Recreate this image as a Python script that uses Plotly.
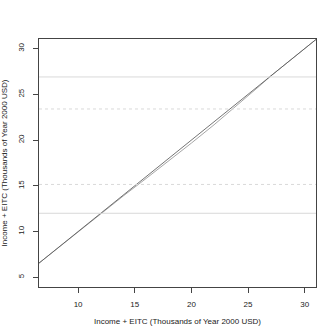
import plotly.graph_objects as go

# income before EITC (thousands of year 2000 USD)
income = [6.5, 12, 14, 16, 18, 20, 22, 24, 26, 27, 31]
# income + EITC, reference line (no change)
total_ref = [6.5, 12, 14, 16, 18, 20, 22, 24, 26, 27, 31]
# income + EITC, alternative schedule
total_alt = [6.5, 12, 13.9, 15.8, 17.72, 19.67, 21.67, 23.75, 25.9, 27, 31]

solid_levels = [12.0, 26.9]
dashed_levels = [15.15, 23.4]

y_range = [3.94, 31.05]
y_ticks = [5, 10, 15, 20, 25, 30]

fig = go.Figure()

for lvl in solid_levels:
    fig.add_hline(y=lvl, line=dict(color='#d9d9d9', width=1))
for lvl in dashed_levels:
    fig.add_hline(y=lvl, line=dict(color='#d9d9d9', width=1, dash='dot'))

fig.add_trace(go.Scatter(
    x=income, y=total_alt, mode='lines', yaxis='y2',
    line=dict(color='#a6a6a6', width=1), showlegend=False
))
fig.add_trace(go.Scatter(
    x=income, y=total_ref, mode='lines', yaxis='y2',
    line=dict(color='#505050', width=0.8), showlegend=False
))

axis_font = dict(family='Liberation Sans, Arial', size=8, color='#222')

fig.update_layout(
    width=336, height=336,
    plot_bgcolor='white', paper_bgcolor='white',
    margin=dict(l=39, r=20, t=39, b=49),
    font=axis_font,
    xaxis=dict(
        title=dict(text='Income + EITC (Thousands of Year 2000 USD)', font=axis_font, standoff=10),
        range=[6.55, 31.0], tickvals=[10, 15, 20, 25, 30],
        showgrid=False, zeroline=False,
        showline=True, linecolor='#444', linewidth=1, mirror=True,
        ticks='outside', ticklen=5, tickcolor='#444', ticklabelstandoff=4,
        automargin=False
    ),
    # visible tick marks and frame
    yaxis=dict(
        range=y_range, tickvals=y_ticks, showticklabels=False,
        showgrid=False, zeroline=False,
        showline=True, linecolor='#444', linewidth=1, mirror=True,
        ticks='outside', ticklen=5, tickcolor='#444', automargin=False
    ),
    # labels pushed further out like R's axis
    yaxis2=dict(
        overlaying='y', side='left',
        title=dict(text='Income + EITC (Thousands of Year 2000 USD)', font=axis_font, standoff=8),
        range=y_range, tickvals=y_ticks, tickangle=-90,
        showgrid=False, zeroline=False, showline=False,
        ticks='outside', ticklen=11, tickcolor='rgba(0,0,0,0)', automargin=False
    )
)

# drop the page's default body margin so the 336px figure fills the window
fig.write_html("out.html", config={'displayModeBar': False},
               post_script="document.body.style.margin='0';")
